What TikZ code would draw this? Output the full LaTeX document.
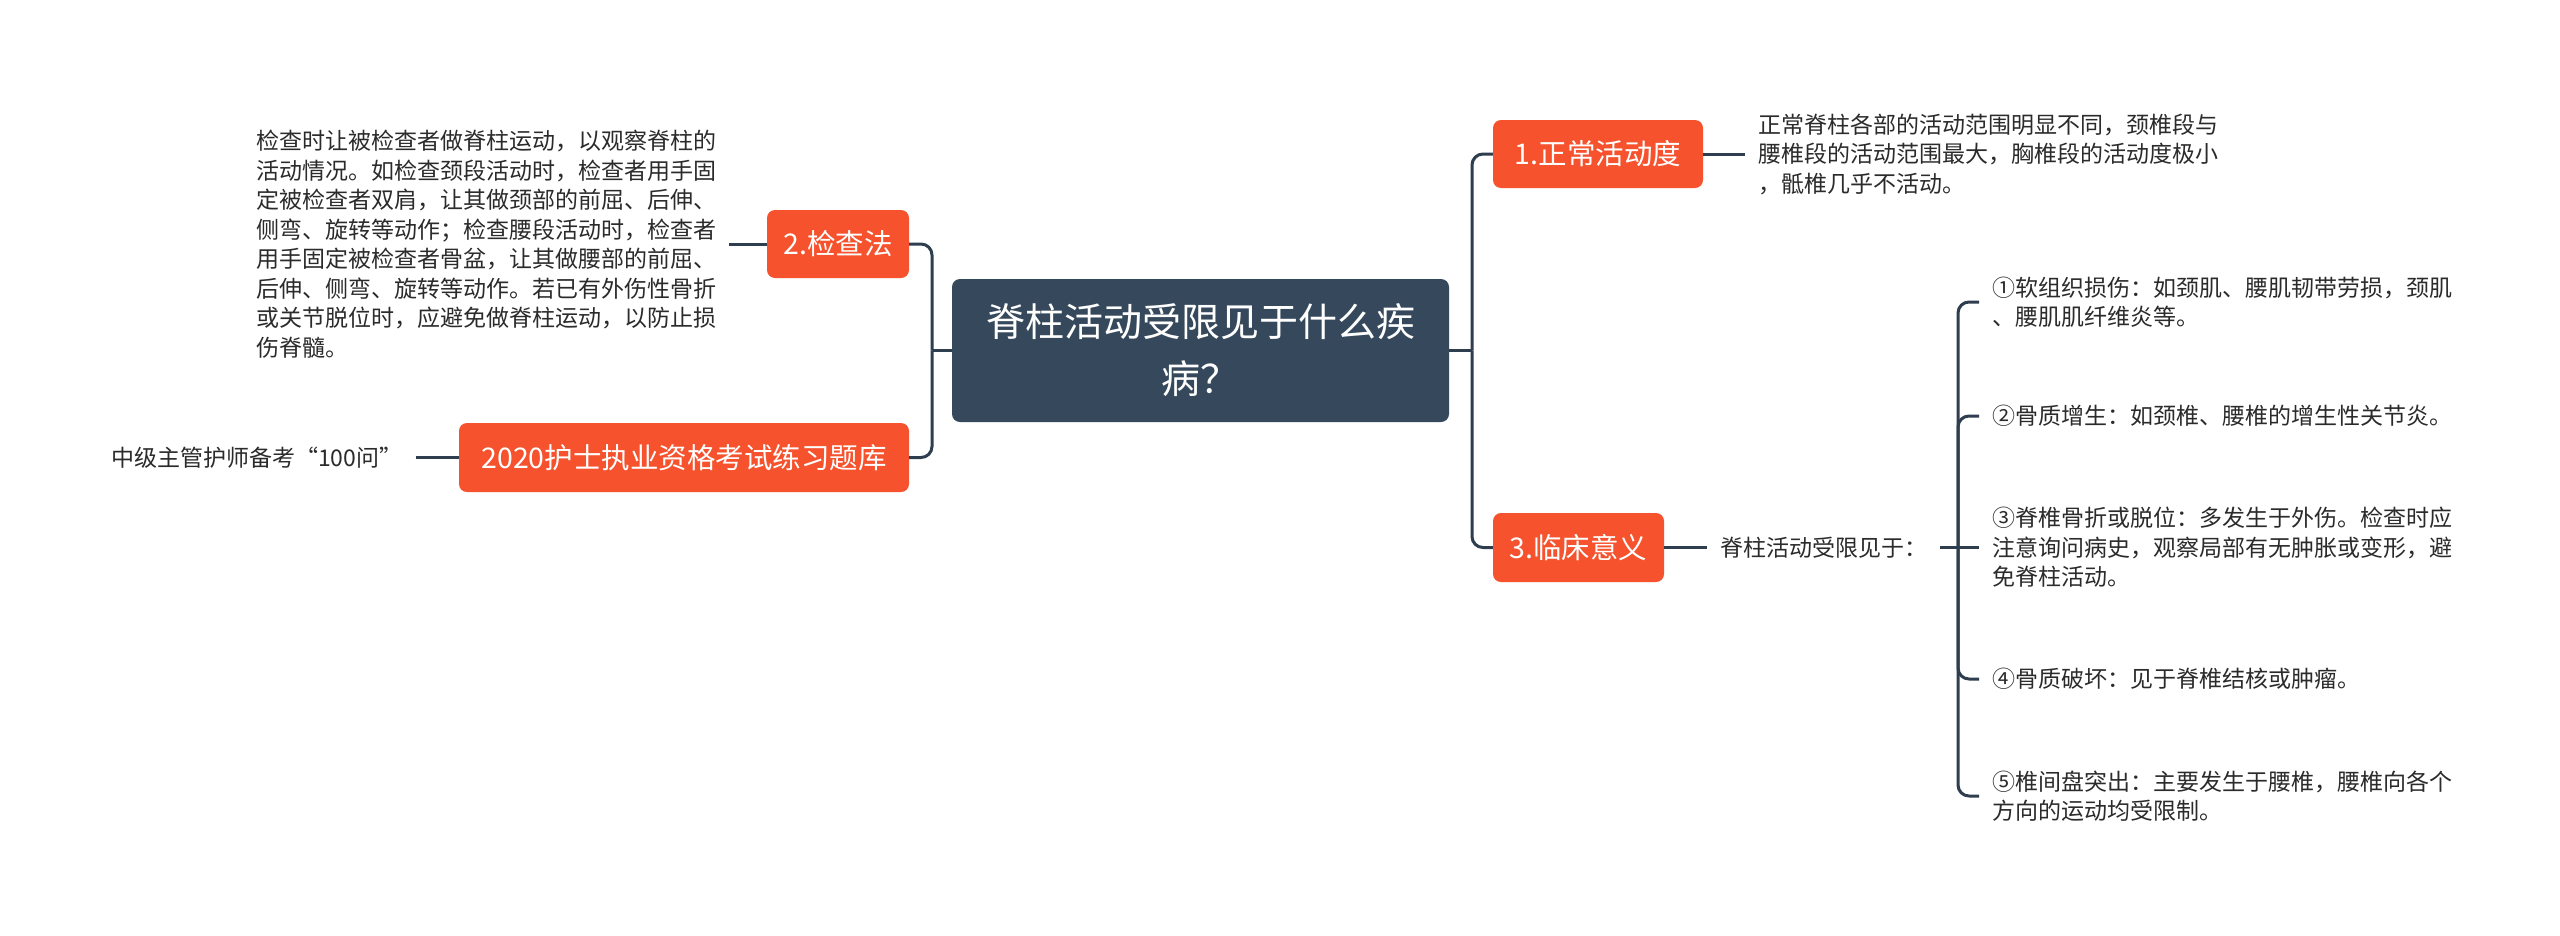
\documentclass[tikz,border=0pt]{standalone}
\usepackage{fontspec}
\newfontfamily\cjk{Noto Sans CJK SC}
\definecolor{orng}{HTML}{F5522D}
\definecolor{dark}{HTML}{36495C}
\definecolor{linec}{HTML}{2E3E4E}
\definecolor{txt}{HTML}{2B2B2B}
\begin{document}
\begin{tikzpicture}[x=1pt,y=-1pt,
  conn/.style={draw=linec,line width=3pt},
  elbowline/.style={conn,rounded corners=11pt},
  topic/.style={fill=orng,rounded corners=8pt,text=white,font=\cjk\fontsize{28.5}{34}\selectfont,inner sep=0pt,align=center},
  central/.style={fill=dark,rounded corners=8pt,text=white,font=\cjk\fontsize{39}{57}\selectfont,align=center,inner sep=0pt},
  plain/.style={text=txt,font=\cjk\fontsize{23}{29.5}\selectfont,align=left,inner xsep=13pt,inner ysep=0pt}]
\fill[white] (0,0) rectangle (2560,935);
\useasboundingbox (0,0) rectangle (2560,935);
% central
\node[central,minimum width=497pt,minimum height=143pt] (c) at (1200.5,350.5) {脊柱活动受限见于什么疾\\病？};
% main topics
\node[topic,minimum width=210pt,minimum height=68pt] (n1) at (1598,154) {1.正常活动度};
\node[topic,minimum width=142pt,minimum height=68pt] (n2) at (838,244) {2.检查法};
\node[topic,minimum width=450pt,minimum height=69pt] (n4) at (684,457.5) {2020护士执业资格考试练习题库};
\node[topic,minimum width=171pt,minimum height=69pt] (n3) at (1578.5,547.5) {3.临床意义};
% texts
\node[plain,anchor=west] (t1) at (1745,154) {正常脊柱各部的活动范围明显不同，颈椎段与\\腰椎段的活动范围最大，胸椎段的活动度极小\\，骶椎几乎不活动。};
\node[plain,anchor=west] (t2) at (243,244) {检查时让被检查者做脊柱运动，以观察脊柱的\\活动情况。如检查颈段活动时，检查者用手固\\定被检查者双肩，让其做颈部的前屈、后伸、\\侧弯、旋转等动作；检查腰段活动时，检查者\\用手固定被检查者骨盆，让其做腰部的前屈、\\后伸、侧弯、旋转等动作。若已有外伤性骨折\\或关节脱位时，应避免做脊柱运动，以防止损\\伤脊髓。};
\node[plain,anchor=west] (t4) at (98,457.5) {中级主管护师备考“100问”};
\node[plain,anchor=west] (t3) at (1707,547.5) {脊柱活动受限见于：};
\coordinate (b) at (1958,547.5);
\node[plain,anchor=west] (i1) at (1979,302) {①软组织损伤：如颈肌、腰肌韧带劳损，颈肌\\、腰肌肌纤维炎等。};
\node[plain,anchor=west] (i2) at (1979,416) {②骨质增生：如颈椎、腰椎的增生性关节炎。};
\node[plain,anchor=west] (i3) at (1979,547.5) {③脊椎骨折或脱位：多发生于外伤。检查时应\\注意询问病史，观察局部有无肿胀或变形，避\\免脊柱活动。};
\node[plain,anchor=west] (i4) at (1979,679) {④骨质破坏：见于脊椎结核或肿瘤。};
\node[plain,anchor=west] (i5) at (1979,796) {⑤椎间盘突出：主要发生于腰椎，腰椎向各个\\方向的运动均受限制。};
% connectors
\coordinate (jl) at (932,350.5);
\coordinate (jr) at (1472,350.5);
\draw[conn] (c.west) -- (jl);
\draw[elbowline] (jl) |- (n2.east);
\draw[elbowline] (jl) |- (n4.east);
\draw[conn] (c.east) -- (jr);
\draw[elbowline] (jr) |- (n1.west);
\draw[elbowline] (jr) |- (n3.west);
\draw[conn] (n1.east) -- (t1.west);
\draw[conn] (t2.east) -- (n2.west);
\draw[conn] (t4.east) -- (n4.west);
\draw[conn] (n3.east) -- (t3.west);
\draw[conn] (t3.east) -- (i3.west);
\draw[elbowline] (b) |- (i1.west);
\draw[elbowline] (b) |- (i2.west);
\draw[elbowline] (b) |- (i4.west);
\draw[elbowline] (b) |- (i5.west);
\end{tikzpicture}
\end{document}
